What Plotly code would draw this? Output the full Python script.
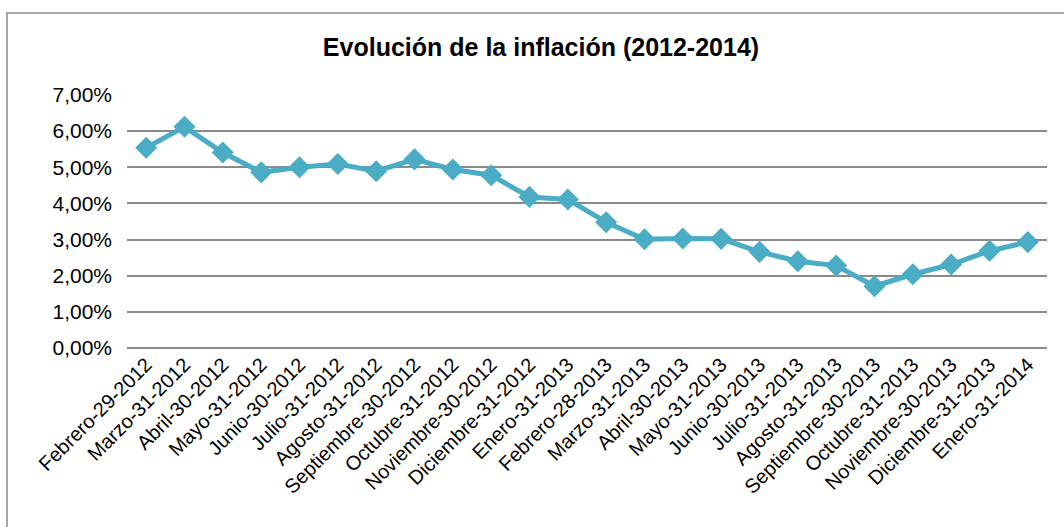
import plotly.graph_objects as go

categories = [
    "Febrero-29-2012", "Marzo-31-2012", "Abril-30-2012", "Mayo-31-2012",
    "Junio-30-2012", "Julio-31-2012", "Agosto-31-2012", "Septiembre-30-2012",
    "Octubre-31-2012", "Noviembre-30-2012", "Diciembre-31-2012", "Enero-31-2013",
    "Febrero-28-2013", "Marzo-31-2013", "Abril-30-2013", "Mayo-31-2013",
    "Junio-30-2013", "Julio-31-2013", "Agosto-31-2013", "Septiembre-30-2013",
    "Octubre-31-2013", "Noviembre-30-2013", "Diciembre-31-2013", "Enero-31-2014",
]
inflacion = [
    5.54, 6.12, 5.41, 4.86, 5.00, 5.09, 4.89, 5.22, 4.94, 4.78, 4.18, 4.11,
    3.48, 3.01, 3.03, 3.02, 2.66, 2.40, 2.28, 1.71, 2.04, 2.31, 2.69, 2.93,
]
y_ticks = [0, 1, 2, 3, 4, 5, 6, 7]
y_ticktext = [f"{v:.2f}".replace(".", ",") + "%" for v in y_ticks]
title_text = "Evolución de la inflación (2012-2014)"

W, H = 1064, 527
L, R, T, B = 127, 17, 95, 179
pw, ph = W - L - R, H - T - B

def px_to_paper_x(x):
    return (x - L) / pw

def px_to_paper_y(y):
    return (H - B - y) / ph

fig = go.Figure()
fig.add_trace(go.Scatter(
    x=categories, y=inflacion, mode="lines+markers",
    line=dict(color="#4BACC6", width=5),
    marker=dict(symbol="diamond", size=17, color="#4BACC6"),
    showlegend=False,
))

fig.update_layout(
    width=W, height=H,
    margin=dict(l=L, r=R, t=T, b=B),
    paper_bgcolor="white", plot_bgcolor="white",
    font=dict(family="Liberation Sans, Arial, sans-serif", color="black"),
    title=dict(text="<b>" + title_text + "</b>", x=541 / W, xref="container",
               xanchor="center", y=1 - 47 / H, yref="container", yanchor="middle",
               font=dict(size=25, color="black")),
    xaxis=dict(type="category", range=[-0.5, len(categories) - 0.5],
               tickangle=-45, tickfont=dict(size=20), showgrid=False,
               showline=False, zeroline=False, ticks="", ticklabelstandoff=0),
    yaxis=dict(range=[0, 7], tickvals=y_ticks, ticktext=y_ticktext,
               tickfont=dict(size=21), showgrid=True, gridcolor="#8A8A8A",
               gridwidth=1.5, zeroline=True, zerolinecolor="#8A8A8A",
               zerolinewidth=1.5, showline=False, ticks="",
               ticklabelstandoff=14),
    shapes=[dict(type="rect", xref="paper", yref="paper",
                 x0=px_to_paper_x(7), x1=px_to_paper_x(W + 20),
                 y0=px_to_paper_y(H + 20), y1=px_to_paper_y(13),
                 line=dict(color="#8C8C8C", width=1.5), layer="below")],
)

fig.write_html("out.html", config={"displayModeBar": False},
               post_script="document.body.style.margin='0';document.body.style.overflow='hidden';")
